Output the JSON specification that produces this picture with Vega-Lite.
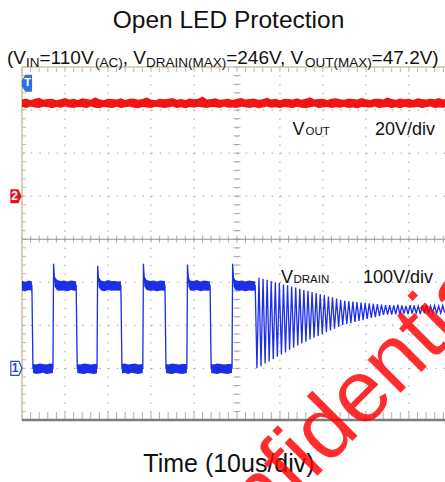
{
  "$schema": "https://vega.github.io/schema/vega-lite/v6.json",
  "width": 423,
  "height": 353,
  "autosize": {"type": "none"},
  "padding": {"left": 22, "top": 67, "right": 0, "bottom": 62},
  "background": "white",
  "config": {"view": {"stroke": null}, "text": {"font": "Liberation Sans", "color": "#111111"}},
  "datasets": {
    "xt": [{"t":0},{"t":2},{"t":4},{"t":6},{"t":8},{"t":10},{"t":12},{"t":14},{"t":16},{"t":18},{"t":20},{"t":22},{"t":24},{"t":26},{"t":28},{"t":30},{"t":32},{"t":34},{"t":36},{"t":38},{"t":40},{"t":42},{"t":44},{"t":46},{"t":48},{"t":50},{"t":52},{"t":54},{"t":56},{"t":58},{"t":60},{"t":62},{"t":64},{"t":66},{"t":68},{"t":70},{"t":72},{"t":74},{"t":76},{"t":78},{"t":80},{"t":82},{"t":84},{"t":86},{"t":88},{"t":90},{"t":92},{"t":94},{"t":96},{"t":98}],
    "yt": [{"d":-4.2},{"d":-4},{"d":-3.8},{"d":-3.6},{"d":-3.4},{"d":-3.2},{"d":-3},{"d":-2.8},{"d":-2.6},{"d":-2.4},{"d":-2.2},{"d":-2},{"d":-1.8},{"d":-1.6},{"d":-1.4},{"d":-1.2},{"d":-1},{"d":-0.8},{"d":-0.6},{"d":-0.4},{"d":-0.2},{"d":0},{"d":0.2},{"d":0.4},{"d":0.6},{"d":0.8},{"d":1},{"d":1.2},{"d":1.4},{"d":1.6},{"d":1.8},{"d":2},{"d":2.2},{"d":2.4},{"d":2.6},{"d":2.8},{"d":3},{"d":3.2},{"d":3.4},{"d":3.6},{"d":3.8},{"d":4}],
    "vout": [
      {"t":0,"lo":41.4,"hi":44.9},{"t":1,"lo":41.0,"hi":45.4},{"t":2,"lo":41.6,"hi":44.6},{"t":3,"lo":41.2,"hi":45.2},{"t":4,"lo":40.9,"hi":45.7},{"t":5,"lo":41.5,"hi":44.8},{"t":6,"lo":41.3,"hi":45.1},{"t":7,"lo":40.8,"hi":45.3},{"t":8,"lo":41.4,"hi":44.5},{"t":9,"lo":41.1,"hi":45.0},
      {"t":10,"lo":41.7,"hi":45.6},{"t":11,"lo":41.2,"hi":44.9},{"t":12,"lo":40.9,"hi":45.2},{"t":13,"lo":41.4,"hi":44.7},{"t":14,"lo":41.3,"hi":45.5},{"t":15,"lo":41.0,"hi":45.1},{"t":16,"lo":41.6,"hi":44.8},{"t":17,"lo":41.1,"hi":45.9},{"t":18,"lo":40.8,"hi":45.0},{"t":19,"lo":41.4,"hi":44.6},
      {"t":20,"lo":41.2,"hi":45.3},{"t":21,"lo":41.0,"hi":45.1},{"t":22,"lo":41.5,"hi":44.9},{"t":23,"lo":40.9,"hi":45.5},{"t":24,"lo":41.3,"hi":44.7},{"t":25,"lo":41.6,"hi":45.2},{"t":26,"lo":41.1,"hi":45.4},{"t":27,"lo":40.8,"hi":44.8},{"t":28,"lo":41.4,"hi":45.1},{"t":29,"lo":41.2,"hi":45.8},
      {"t":30,"lo":41.0,"hi":44.9},{"t":31,"lo":41.5,"hi":44.6},{"t":32,"lo":41.3,"hi":45.3},{"t":33,"lo":40.9,"hi":45.0},{"t":34,"lo":41.2,"hi":45.2},{"t":35,"lo":41.6,"hi":45.6},{"t":36,"lo":41.0,"hi":44.8},{"t":37,"lo":41.3,"hi":45.1},{"t":38,"lo":40.8,"hi":44.7},{"t":39,"lo":41.4,"hi":45.4},
      {"t":40,"lo":41.1,"hi":45.0},{"t":41,"lo":41.5,"hi":45.2},{"t":42,"lo":41.2,"hi":46.3},{"t":43,"lo":40.9,"hi":44.9},{"t":44,"lo":41.4,"hi":45.1},{"t":45,"lo":41.3,"hi":45.5},{"t":46,"lo":41.0,"hi":44.8},{"t":47,"lo":41.6,"hi":45.0},{"t":48,"lo":41.1,"hi":45.3},{"t":49,"lo":41.2,"hi":44.7},
      {"t":50,"lo":40.9,"hi":45.2},{"t":51,"lo":41.5,"hi":45.6},{"t":52,"lo":41.3,"hi":44.9},{"t":53,"lo":41.0,"hi":45.1},{"t":54,"lo":41.4,"hi":45.4},{"t":55,"lo":40.8,"hi":44.8},{"t":56,"lo":41.2,"hi":45.0},{"t":57,"lo":41.6,"hi":45.7},{"t":58,"lo":41.1,"hi":44.9},{"t":59,"lo":41.3,"hi":45.2},
      {"t":60,"lo":40.9,"hi":44.6},{"t":61,"lo":41.4,"hi":45.3},{"t":62,"lo":41.2,"hi":45.1},{"t":63,"lo":41.0,"hi":44.9},{"t":64,"lo":41.5,"hi":45.5},{"t":65,"lo":41.1,"hi":44.8},{"t":66,"lo":40.8,"hi":45.2},{"t":67,"lo":41.3,"hi":46.0},{"t":68,"lo":41.6,"hi":44.9},{"t":69,"lo":41.0,"hi":45.1},
      {"t":70,"lo":41.2,"hi":45.3},{"t":71,"lo":41.4,"hi":44.7},{"t":72,"lo":40.9,"hi":45.2},{"t":73,"lo":41.3,"hi":45.5},{"t":74,"lo":41.1,"hi":45.0},{"t":75,"lo":41.5,"hi":44.8},{"t":76,"lo":41.0,"hi":45.4},{"t":77,"lo":41.2,"hi":45.1},{"t":78,"lo":40.8,"hi":44.9},{"t":79,"lo":41.4,"hi":45.6},
      {"t":80,"lo":41.3,"hi":45.0},{"t":81,"lo":41.1,"hi":44.7},{"t":82,"lo":41.6,"hi":45.2},{"t":83,"lo":40.9,"hi":45.3},{"t":84,"lo":41.2,"hi":44.9},{"t":85,"lo":41.4,"hi":45.8},{"t":86,"lo":41.0,"hi":45.1},{"t":87,"lo":41.3,"hi":44.8},{"t":88,"lo":40.8,"hi":45.4},{"t":89,"lo":41.5,"hi":45.0},
      {"t":90,"lo":41.1,"hi":45.2},{"t":91,"lo":41.2,"hi":44.7},{"t":92,"lo":41.4,"hi":45.5},{"t":93,"lo":40.9,"hi":45.1},{"t":94,"lo":41.3,"hi":44.9},{"t":95,"lo":41.6,"hi":45.3},{"t":96,"lo":41.0,"hi":45.0},{"t":97,"lo":41.2,"hi":45.6},{"t":98,"lo":41.1,"hi":44.9},{"t":98.4,"lo":41.3,"hi":45.1}
    ],
    "vdrain": [
      {"t":0,"v":192,"lo":181,"hi":203},{"t":0.8,"v":191,"lo":179,"hi":201},{"t":1.6,"v":193,"lo":182,"hi":204},{"t":2.3,"v":192,"lo":180,"hi":202},
      {"t":2.55,"v":0,"lo":-11,"hi":10},{"t":3.3,"v":-1,"lo":-13,"hi":9},{"t":4.1,"v":0,"lo":-12,"hi":11},{"t":4.9,"v":1,"lo":-10,"hi":10},{"t":5.7,"v":0,"lo":-13,"hi":9},{"t":6.5,"v":-1,"lo":-12,"hi":11},{"t":7.2,"v":0,"lo":-11,"hi":10},
      {"t":7.35,"v":243,"lo":240,"hi":245},{"t":7.55,"v":205,"lo":190,"hi":214},
      {"t":8.2,"v":194,"lo":181,"hi":205},{"t":9.0,"v":192,"lo":180,"hi":203},{"t":9.8,"v":193,"lo":181,"hi":204},{"t":10.6,"v":191,"lo":179,"hi":202},{"t":11.4,"v":193,"lo":182,"hi":204},{"t":12.2,"v":192,"lo":180,"hi":203},{"t":12.6,"v":192,"lo":181,"hi":202},
      {"t":12.85,"v":0,"lo":-11,"hi":10},{"t":13.6,"v":-1,"lo":-12,"hi":9},{"t":14.4,"v":0,"lo":-13,"hi":11},{"t":15.2,"v":1,"lo":-11,"hi":10},{"t":16.0,"v":0,"lo":-12,"hi":9},{"t":16.8,"v":-1,"lo":-13,"hi":10},{"t":17.45,"v":0,"lo":-11,"hi":10},
      {"t":17.6,"v":238,"lo":235,"hi":240},{"t":17.8,"v":204,"lo":189,"hi":213},
      {"t":18.4,"v":193,"lo":181,"hi":204},{"t":19.2,"v":191,"lo":179,"hi":202},{"t":20.0,"v":194,"lo":182,"hi":205},{"t":20.8,"v":192,"lo":180,"hi":203},{"t":21.6,"v":193,"lo":181,"hi":203},{"t":22.4,"v":191,"lo":180,"hi":202},{"t":23.0,"v":192,"lo":181,"hi":203},
      {"t":23.25,"v":0,"lo":-12,"hi":10},{"t":23.9,"v":0,"lo":-11,"hi":11},{"t":24.7,"v":-1,"lo":-13,"hi":9},{"t":25.5,"v":1,"lo":-10,"hi":10},{"t":26.3,"v":0,"lo":-12,"hi":11},{"t":27.1,"v":-1,"lo":-13,"hi":9},{"t":28.1,"v":0,"lo":-11,"hi":10},
      {"t":28.25,"v":243,"lo":240,"hi":245},{"t":28.45,"v":205,"lo":190,"hi":214},
      {"t":29.0,"v":194,"lo":182,"hi":205},{"t":29.8,"v":192,"lo":180,"hi":203},{"t":30.6,"v":193,"lo":181,"hi":204},{"t":31.4,"v":191,"lo":179,"hi":202},{"t":32.2,"v":193,"lo":181,"hi":204},{"t":33.25,"v":192,"lo":180,"hi":203},
      {"t":33.5,"v":0,"lo":-11,"hi":10},{"t":34.1,"v":-1,"lo":-12,"hi":9},{"t":34.9,"v":0,"lo":-13,"hi":11},{"t":35.7,"v":1,"lo":-11,"hi":10},{"t":36.5,"v":0,"lo":-12,"hi":9},{"t":37.3,"v":-1,"lo":-13,"hi":10},{"t":38.35,"v":0,"lo":-11,"hi":10},
      {"t":38.5,"v":241,"lo":238,"hi":243},{"t":38.7,"v":205,"lo":190,"hi":214},
      {"t":39.1,"v":193,"lo":181,"hi":204},{"t":39.9,"v":192,"lo":180,"hi":203},{"t":40.7,"v":194,"lo":182,"hi":205},{"t":41.5,"v":191,"lo":179,"hi":202},{"t":42.3,"v":193,"lo":181,"hi":204},{"t":43.1,"v":192,"lo":180,"hi":203},{"t":43.75,"v":192,"lo":181,"hi":202},
      {"t":44.0,"v":0,"lo":-11,"hi":10},{"t":44.6,"v":-1,"lo":-12,"hi":9},{"t":45.4,"v":0,"lo":-13,"hi":11},{"t":46.2,"v":1,"lo":-11,"hi":10},{"t":47.0,"v":0,"lo":-12,"hi":9},{"t":47.8,"v":-1,"lo":-13,"hi":10},{"t":48.85,"v":0,"lo":-11,"hi":10},
      {"t":49.0,"v":243,"lo":240,"hi":245},{"t":49.2,"v":205,"lo":190,"hi":214},
      {"t":49.6,"v":194,"lo":182,"hi":205},{"t":50.4,"v":192,"lo":180,"hi":203},{"t":51.2,"v":193,"lo":181,"hi":204},{"t":52.0,"v":191,"lo":179,"hi":202},{"t":52.8,"v":193,"lo":181,"hi":204},{"t":53.6,"v":192,"lo":180,"hi":203},{"t":54.25,"v":192,"lo":181,"hi":202},
      {"t":54.65,"v":0},{"t":55.125,"v":211},{"t":55.6,"v":5},{"t":56.075,"v":208},{"t":56.55,"v":11},{"t":57.025,"v":206},{"t":57.5,"v":16},{"t":57.975,"v":203},{"t":58.45,"v":21},{"t":58.925,"v":200},
      {"t":59.4,"v":27},{"t":59.875,"v":198},{"t":60.35,"v":32},{"t":60.825,"v":195},{"t":61.3,"v":37},{"t":61.775,"v":193},{"t":62.25,"v":43},{"t":62.725,"v":190},{"t":63.2,"v":48},{"t":63.675,"v":188},
      {"t":64.15,"v":53},{"t":64.625,"v":185},{"t":65.1,"v":58},{"t":65.575,"v":182},{"t":66.05,"v":62},{"t":66.525,"v":180},{"t":67.0,"v":67},{"t":67.475,"v":177},{"t":67.95,"v":71},{"t":68.425,"v":175},
      {"t":68.9,"v":75},{"t":69.375,"v":172},{"t":69.85,"v":79},{"t":70.325,"v":170},{"t":70.8,"v":84},{"t":71.275,"v":167},{"t":71.75,"v":88},{"t":72.225,"v":165},{"t":72.7,"v":92},{"t":73.175,"v":162},
      {"t":73.65,"v":96},{"t":74.125,"v":159},{"t":74.6,"v":101},{"t":75.075,"v":157},{"t":75.55,"v":103},{"t":76.025,"v":156},{"t":76.5,"v":105},{"t":76.975,"v":155},{"t":77.45,"v":108},{"t":77.925,"v":154},
      {"t":78.4,"v":110},{"t":78.875,"v":153},{"t":79.35,"v":112},{"t":79.825,"v":152},{"t":80.3,"v":115},{"t":80.775,"v":151},{"t":81.25,"v":117},{"t":81.725,"v":150},{"t":82.2,"v":119},{"t":82.675,"v":149},
      {"t":83.15,"v":121},{"t":83.625,"v":148},{"t":84.1,"v":124},{"t":84.575,"v":147},{"t":85.05,"v":125},{"t":85.525,"v":147},{"t":86.0,"v":125},{"t":86.475,"v":146},{"t":86.95,"v":126},{"t":87.425,"v":148},
      {"t":87.9,"v":125},{"t":88.375,"v":146},{"t":88.85,"v":127},{"t":89.325,"v":145},{"t":89.8,"v":126},{"t":90.275,"v":147},{"t":90.75,"v":127},{"t":91.225,"v":146},{"t":91.7,"v":128},{"t":92.175,"v":145},
      {"t":92.65,"v":126},{"t":93.125,"v":146},{"t":93.6,"v":128},{"t":94.075,"v":147},{"t":94.55,"v":127},{"t":95.025,"v":145},{"t":95.5,"v":129},{"t":95.975,"v":146},{"t":96.45,"v":127},{"t":96.925,"v":145},
      {"t":97.4,"v":128},{"t":97.875,"v":146},{"t":98.35,"v":129}
    ]
  },
  "layer": [
    {
      "data": {"values": [{"t":10},{"t":20},{"t":30},{"t":40},{"t":50},{"t":60},{"t":70},{"t":80},{"t":90}]},
      "mark": {"type": "rule", "color": "#9c9c9c", "strokeWidth": 1, "strokeDash": [1.4, 7.2]},
      "encoding": {"x": {"field": "t", "type": "quantitative", "scale": {"domain": [0, 98.4], "nice": false, "zero": false}, "axis": null}}
    },
    {
      "data": {"values": [{"d":3},{"d":2},{"d":1},{"d":-1},{"d":-2},{"d":-3}]},
      "mark": {"type": "rule", "color": "#9c9c9c", "strokeWidth": 1, "strokeDash": [1.4, 7.2]},
      "encoding": {"y": {"field": "d", "type": "quantitative", "scale": {"domain": [-4.2, 4], "nice": false, "zero": false}, "axis": null}}
    },
    {
      "data": {"values": [{"d":0}]},
      "mark": {"type": "rule", "color": "#8c8c8c", "strokeWidth": 1},
      "encoding": {"y": {"field": "d", "type": "quantitative", "scale": {"domain": [-4.2, 4], "nice": false, "zero": false}, "axis": null}}
    },
    {
      "data": {"name": "xt"},
      "mark": {"type": "tick", "orient": "vertical", "size": 7, "thickness": 1, "color": "#8c8c8c"},
      "encoding": {
        "x": {"field": "t", "type": "quantitative", "scale": {"domain": [0, 98.4], "nice": false, "zero": false}, "axis": null},
        "y": {"datum": 0, "type": "quantitative", "scale": {"domain": [-4.2, 4], "nice": false, "zero": false}, "axis": null}
      }
    },
    {
      "data": {"name": "xt"},
      "mark": {"type": "tick", "orient": "vertical", "size": 10, "thickness": 1, "color": "#a09a8a", "clip": true},
      "encoding": {
        "x": {"field": "t", "type": "quantitative", "scale": {"domain": [0, 98.4], "nice": false, "zero": false}, "axis": null},
        "y": {"datum": 4, "type": "quantitative", "scale": {"domain": [-4.2, 4], "nice": false, "zero": false}, "axis": null}
      }
    },
    {
      "data": {"name": "xt"},
      "mark": {"type": "tick", "orient": "vertical", "size": 16, "thickness": 1, "color": "#8c8c8c", "clip": true},
      "encoding": {
        "x": {"field": "t", "type": "quantitative", "scale": {"domain": [0, 98.4], "nice": false, "zero": false}, "axis": null},
        "y": {"datum": -4.2, "type": "quantitative", "scale": {"domain": [-4.2, 4], "nice": false, "zero": false}, "axis": null}
      }
    },
    {
      "data": {"name": "yt"},
      "mark": {"type": "tick", "orient": "horizontal", "size": 8, "thickness": 1, "color": "#a09a8a", "clip": true},
      "encoding": {
        "x": {"datum": 0, "type": "quantitative", "scale": {"domain": [0, 98.4], "nice": false, "zero": false}, "axis": null},
        "y": {"field": "d", "type": "quantitative", "scale": {"domain": [-4.2, 4], "nice": false, "zero": false}, "axis": null}
      }
    },
    {
      "data": {"name": "yt"},
      "mark": {"type": "tick", "orient": "horizontal", "size": 7, "thickness": 1, "color": "#8c8c8c"},
      "encoding": {
        "x": {"datum": 50, "type": "quantitative", "scale": {"domain": [0, 98.4], "nice": false, "zero": false}, "axis": null},
        "y": {"field": "d", "type": "quantitative", "scale": {"domain": [-4.2, 4], "nice": false, "zero": false}, "axis": null}
      }
    },
    {
      "data": {"values": [{}]},
      "mark": {"type": "rule", "color": "#cdbf9c", "strokeWidth": 1.5},
      "encoding": {"x": {"datum": 0, "type": "quantitative", "scale": {"domain": [0, 98.4], "nice": false, "zero": false}, "axis": null}}
    },
    {
      "data": {"values": [{}]},
      "mark": {"type": "rule", "color": "#cfc5ad", "strokeWidth": 1.5},
      "encoding": {"y": {"datum": 4, "type": "quantitative", "scale": {"domain": [-4.2, 4], "nice": false, "zero": false}, "axis": null}}
    },
    {
      "data": {"values": [{}]},
      "mark": {"type": "rule", "color": "#7a7a7a", "strokeWidth": 2.5},
      "encoding": {"y": {"datum": -4.2, "type": "quantitative", "scale": {"domain": [-4.2, 4], "nice": false, "zero": false}, "axis": null}}
    },
    {
      "data": {"name": "vout"},
      "mark": {"type": "area", "color": "#f01414", "opacity": 1},
      "encoding": {
        "x": {"field": "t", "type": "quantitative", "scale": {"domain": [0, 98.4], "nice": false, "zero": false}, "axis": null},
        "y": {"field": "lo", "type": "quantitative", "scale": {"domain": [-104, 60], "nice": false, "zero": false}, "axis": null},
        "y2": {"field": "hi"}
      }
    },
    {
      "data": {"name": "vdrain"},
      "mark": {"type": "area", "color": "#1c2ee6", "opacity": 1},
      "encoding": {
        "x": {"field": "t", "type": "quantitative", "scale": {"domain": [0, 98.4], "nice": false, "zero": false}, "axis": null},
        "y": {"field": "lo", "type": "quantitative", "scale": {"domain": [-120, 700], "nice": false, "zero": false}, "axis": null},
        "y2": {"field": "hi"}
      }
    },
    {
      "data": {"name": "vdrain"},
      "mark": {"type": "line", "color": "#1c2ee6", "strokeWidth": 1.3},
      "encoding": {
        "x": {"field": "t", "type": "quantitative", "scale": {"domain": [0, 98.4], "nice": false, "zero": false}, "axis": null},
        "y": {"field": "v", "type": "quantitative", "scale": {"domain": [-120, 700], "nice": false, "zero": false}, "axis": null}
      }
    },
    {
      "data": {"values": [{"t": -1.4, "d": 1}]},
      "mark": {"type": "point", "shape": "M-0.8,-1L0.35,-1L0.8,0L0.35,1L-0.8,1Z", "size": 196, "filled": true, "color": "#e8101e", "opacity": 1},
      "encoding": {
        "x": {"field": "t", "type": "quantitative", "scale": {"domain": [0, 98.4], "nice": false, "zero": false}, "axis": null},
        "y": {"field": "d", "type": "quantitative", "scale": {"domain": [-4.2, 4], "nice": false, "zero": false}, "axis": null}
      }
    },
    {
      "data": {"values": [{"t": -1.3, "d": -3}]},
      "mark": {"type": "point", "shape": "M-0.8,-1L0.35,-1L0.8,0L0.35,1L-0.8,1Z", "size": 196, "filled": true, "fill": "white", "stroke": "#3340e0", "strokeWidth": 1.2, "opacity": 1},
      "encoding": {
        "x": {"field": "t", "type": "quantitative", "scale": {"domain": [0, 98.4], "nice": false, "zero": false}, "axis": null},
        "y": {"field": "d", "type": "quantitative", "scale": {"domain": [-4.2, 4], "nice": false, "zero": false}, "axis": null}
      }
    },
    {
      "data": {"values": [{"t": 1.16, "d": 3.62}]},
      "mark": {"type": "point", "shape": "M0.6,-1L-0.2,-1L-0.6,-0.35L-0.6,0.35L-0.2,1L0.6,1Z", "size": 289, "filled": true, "color": "#2f6fe0", "opacity": 1},
      "encoding": {
        "x": {"field": "t", "type": "quantitative", "scale": {"domain": [0, 98.4], "nice": false, "zero": false}, "axis": null},
        "y": {"field": "d", "type": "quantitative", "scale": {"domain": [-4.2, 4], "nice": false, "zero": false}, "axis": null}
      }
    },
    {
      "data": {"values": [{"t": -1.7, "d": 1, "txt": "2"}]},
      "mark": {"type": "text", "fontSize": 12, "fontWeight": "bold", "color": "white", "align": "center", "baseline": "middle"},
      "encoding": {
        "x": {"field": "t", "type": "quantitative", "scale": {"domain": [0, 98.4], "nice": false, "zero": false}, "axis": null},
        "y": {"field": "d", "type": "quantitative", "scale": {"domain": [-4.2, 4], "nice": false, "zero": false}, "axis": null},
        "text": {"field": "txt"}
      }
    },
    {
      "data": {"values": [{"t": -1.6, "d": -3, "txt": "1"}]},
      "mark": {"type": "text", "fontSize": 12, "fontWeight": "bold", "color": "#3340e0", "align": "center", "baseline": "middle"},
      "encoding": {
        "x": {"field": "t", "type": "quantitative", "scale": {"domain": [0, 98.4], "nice": false, "zero": false}, "axis": null},
        "y": {"field": "d", "type": "quantitative", "scale": {"domain": [-4.2, 4], "nice": false, "zero": false}, "axis": null},
        "text": {"field": "txt"}
      }
    },
    {
      "data": {"values": [{"t": 1.3, "d": 3.62, "txt": "T"}]},
      "mark": {"type": "text", "fontSize": 11, "fontWeight": "bold", "color": "white", "align": "center", "baseline": "middle"},
      "encoding": {
        "x": {"field": "t", "type": "quantitative", "scale": {"domain": [0, 98.4], "nice": false, "zero": false}, "axis": null},
        "y": {"field": "d", "type": "quantitative", "scale": {"domain": [-4.2, 4], "nice": false, "zero": false}, "axis": null},
        "text": {"field": "txt"}
      }
    },
    {
      "data": {"values": [{"t": 48.04, "d": 4.899, "txt": "Open LED Protection"}]},
      "mark": {"type": "text", "fontSize": 24.5, "align": "center", "baseline": "alphabetic"},
      "encoding": {
        "x": {"field": "t", "type": "quantitative", "scale": {"domain": [0, 98.4], "nice": false, "zero": false}, "axis": null},
        "y": {"field": "d", "type": "quantitative", "scale": {"domain": [-4.2, 4], "nice": false, "zero": false}, "axis": null},
        "text": {"field": "txt"}
      }
    },
    {
      "data": {"values": [
        {"t": -3.49, "d": 4.081, "txt": "(V"},
        {"t": 4.07, "d": 4.081, "txt": "=110V"},
        {"t": 23.43, "d": 4.081, "txt": ", V"},
        {"t": 47.5, "d": 4.081, "txt": "=246V, V"},
        {"t": 81.33, "d": 4.081, "txt": "=47.2V)"}
      ]},
      "mark": {"type": "text", "fontSize": 19, "align": "left", "baseline": "alphabetic"},
      "encoding": {
        "x": {"field": "t", "type": "quantitative", "scale": {"domain": [0, 98.4], "nice": false, "zero": false}, "axis": null},
        "y": {"field": "d", "type": "quantitative", "scale": {"domain": [-4.2, 4], "nice": false, "zero": false}, "axis": null},
        "text": {"field": "txt"}
      }
    },
    {
      "data": {"values": [
        {"t": 0.93, "d": 4.0, "txt": "IN"},
        {"t": 16.97, "d": 4.0, "txt": "(AC)"},
        {"t": 28.83, "d": 4.0, "txt": "DRAIN(MAX)"},
        {"t": 65.81, "d": 4.0, "txt": "OUT(MAX)"}
      ]},
      "mark": {"type": "text", "fontSize": 13.5, "align": "left", "baseline": "alphabetic"},
      "encoding": {
        "x": {"field": "t", "type": "quantitative", "scale": {"domain": [0, 98.4], "nice": false, "zero": false}, "axis": null},
        "y": {"field": "d", "type": "quantitative", "scale": {"domain": [-4.2, 4], "nice": false, "zero": false}, "axis": null},
        "text": {"field": "txt"}
      }
    },
    {
      "data": {"values": [
        {"t": 62.92, "d": 2.42, "txt": "V"},
        {"t": 82.12, "d": 2.42, "txt": "20V/div"},
        {"t": 60.25, "d": -1.017, "txt": "V"},
        {"t": 79.32, "d": -1.017, "txt": "100V/div"}
      ]},
      "mark": {"type": "text", "fontSize": 18, "align": "left", "baseline": "alphabetic"},
      "encoding": {
        "x": {"field": "t", "type": "quantitative", "scale": {"domain": [0, 98.4], "nice": false, "zero": false}, "axis": null},
        "y": {"field": "d", "type": "quantitative", "scale": {"domain": [-4.2, 4], "nice": false, "zero": false}, "axis": null},
        "text": {"field": "txt"}
      }
    },
    {
      "data": {"values": [
        {"t": 65.95, "d": 2.42, "txt": "OUT"},
        {"t": 63.16, "d": -1.017, "txt": "DRAIN"}
      ]},
      "mark": {"type": "text", "fontSize": 11.5, "align": "left", "baseline": "alphabetic"},
      "encoding": {
        "x": {"field": "t", "type": "quantitative", "scale": {"domain": [0, 98.4], "nice": false, "zero": false}, "axis": null},
        "y": {"field": "d", "type": "quantitative", "scale": {"domain": [-4.2, 4], "nice": false, "zero": false}, "axis": null},
        "text": {"field": "txt"}
      }
    },
    {
      "data": {"values": [{"t": 48.15, "d": -5.408, "txt": "Time (10us/div)"}]},
      "mark": {"type": "text", "fontSize": 25, "align": "center", "baseline": "alphabetic"},
      "encoding": {
        "x": {"field": "t", "type": "quantitative", "scale": {"domain": [0, 98.4], "nice": false, "zero": false}, "axis": null},
        "y": {"field": "d", "type": "quantitative", "scale": {"domain": [-4.2, 4], "nice": false, "zero": false}, "axis": null},
        "text": {"field": "txt"}
      }
    },
    {
      "data": {"values": [{"t": 75.4, "d": -4.83, "txt": "Confidential"}]},
      "mark": {"type": "text", "fontSize": 88, "angle": -45, "color": "#ff0000", "opacity": 0.82, "align": "center", "baseline": "alphabetic"},
      "encoding": {
        "x": {"field": "t", "type": "quantitative", "scale": {"domain": [0, 98.4], "nice": false, "zero": false}, "axis": null},
        "y": {"field": "d", "type": "quantitative", "scale": {"domain": [-4.2, 4], "nice": false, "zero": false}, "axis": null},
        "text": {"field": "txt"}
      }
    }
  ],
  "resolve": {"scale": {"y": "independent"}}
}
